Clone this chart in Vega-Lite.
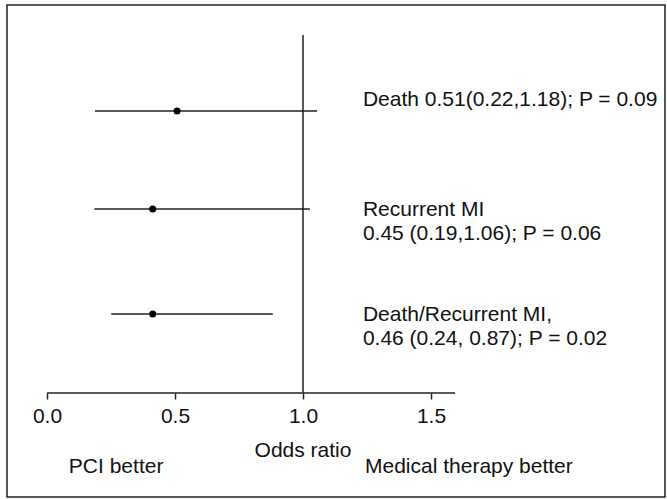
{
  "$schema": "https://vega.github.io/schema/vega-lite/v6.json",
  "width": 658,
  "height": 492,
  "autosize": {"type": "none"},
  "padding": {"left": 7, "top": 5, "right": 2, "bottom": 2},
  "background": "white",
  "config": {
    "view": {"stroke": "#222", "strokeWidth": 1.5},
    "font": "Liberation Sans",
    "text": {"font": "Liberation Sans", "fontSize": 21, "color": "#111"}
  },
  "datasets": {
    "est": [
      {"outcome": "Death", "row": 1, "or": 0.508, "lo": 0.1875, "hi": 1.055, "label": "Death 0.51(0.22,1.18); P = 0.09"},
      {"outcome": "Recurrent MI", "row": 1.965, "or": 0.413, "lo": 0.185, "hi": 1.027, "label": "Recurrent MI\n0.45 (0.19,1.06); P = 0.06"},
      {"outcome": "Death/Recurrent MI", "row": 3, "or": 0.413, "lo": 0.251, "hi": 0.882, "label": "Death/Recurrent MI,\n0.46 (0.24, 0.87); P = 0.02"}
    ],
    "notes": [
      {"note": "PCI better", "side": 0.27},
      {"note": "Medical therapy better", "side": 1.648}
    ]
  },
  "layer": [
    {
      "data": {"name": "est"},
      "mark": {"type": "rule", "color": "#222", "strokeWidth": 1.5},
      "encoding": {
        "x": {"field": "lo", "type": "quantitative",
              "scale": {"domain": [-0.15625, 2.41406], "nice": false, "zero": false},
              "axis": {"values": [0, 0.5, 1, 1.5], "format": ".1f", "domain": false, "grid": false,
                       "ticks": true, "tickSize": 6, "tickColor": "#222", "tickWidth": 1.5,
                       "offset": -104, "labelFontSize": 21, "labelColor": "#111", "labelFont": "Liberation Sans",
                       "labelPadding": 6, "title": null}},
        "x2": {"field": "hi"},
        "y": {"field": "row", "type": "quantitative",
              "scale": {"domain": [-0.0443, 4.803], "reverse": true, "nice": false, "zero": false},
              "axis": null}
      }
    },
    {
      "data": {"name": "est"},
      "mark": {"type": "point", "filled": true, "color": "#000", "size": 50, "opacity": 1},
      "encoding": {
        "x": {"field": "or", "type": "quantitative"},
        "y": {"field": "row", "type": "quantitative"}
      }
    },
    {
      "data": {"values": [{"ref": 1}]},
      "mark": {"type": "rule", "color": "#222", "strokeWidth": 1.5},
      "encoding": {
        "x": {"field": "ref", "type": "quantitative"},
        "y": {"datum": 0.2512, "type": "quantitative"},
        "y2": {"datum": 3.7783}
      }
    },
    {
      "data": {"values": [{"from": 0, "to": 1.594}]},
      "mark": {"type": "rule", "color": "#222", "strokeWidth": 1.5},
      "encoding": {
        "x": {"field": "from", "type": "quantitative"},
        "x2": {"field": "to"},
        "y": {"datum": 3.7783, "type": "quantitative"}
      }
    },
    {
      "data": {"name": "est"},
      "transform": [{"filter": "datum.outcome === 'Death'"}],
      "mark": {"type": "text", "align": "left", "baseline": "middle", "dy": -11},
      "encoding": {
        "x": {"datum": 1.234, "type": "quantitative"},
        "y": {"field": "row", "type": "quantitative"},
        "text": {"field": "label"}
      }
    },
    {
      "data": {"name": "est"},
      "transform": [{"filter": "datum.outcome !== 'Death'"}],
      "mark": {"type": "text", "align": "left", "baseline": "middle", "lineBreak": "\n", "lineHeight": 24, "dy": 1},
      "encoding": {
        "x": {"datum": 1.234, "type": "quantitative"},
        "y": {"field": "row", "type": "quantitative"},
        "text": {"field": "label"}
      }
    },
    {
      "data": {"values": [{"t": "Odds ratio", "at": 1}]},
      "mark": {"type": "text", "align": "center", "baseline": "alphabetic"},
      "encoding": {
        "x": {"field": "at", "type": "quantitative"},
        "y": {"datum": 4.4089, "type": "quantitative"},
        "text": {"field": "t"}
      }
    },
    {
      "data": {"name": "notes"},
      "mark": {"type": "text", "align": "center", "baseline": "alphabetic"},
      "encoding": {
        "x": {"field": "side", "type": "quantitative"},
        "y": {"datum": 4.5665, "type": "quantitative"},
        "text": {"field": "note"}
      }
    }
  ]
}
